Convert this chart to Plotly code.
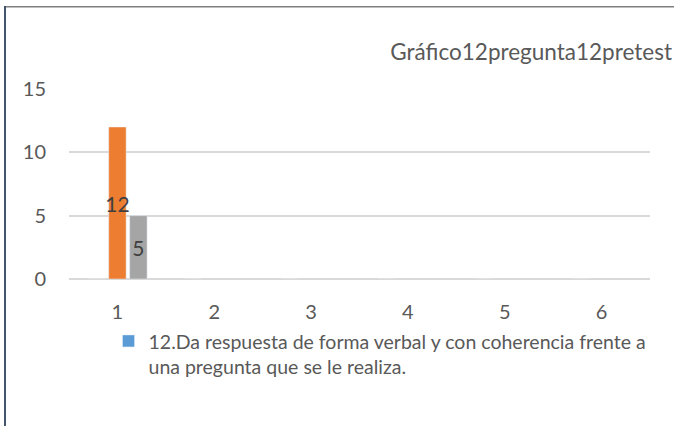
import plotly.graph_objects as go

categories = ["1", "2", "3", "4", "5", "6"]
serie_azul = [0, 0, 0, 0, 0, 0]
serie_naranja = [12, None, None, None, None, None]
serie_gris = [5, None, None, None, None, None]
nombre_serie = "12.Da respuesta de forma verbal y con coherencia frente a<br>una pregunta que se le realiza."
titulo = "Gráfico12pregunta12pretest"
y_ticks = [0, 5, 10, 15]

FONT = "Lato"
TEXT = "#595959"

fig = go.Figure()
fig.add_trace(go.Bar(x=categories, y=serie_azul, name=nombre_serie,
                     marker_color="#5B9BD5"))
fig.add_trace(go.Bar(x=categories, y=serie_naranja, marker_color="#ED7D31",
                     showlegend=False, texttemplate="%{y}", textposition="inside",
                     insidetextanchor="middle", textangle=0, constraintext="none",
                     textfont=dict(family=FONT, size=21, color="#404040")))
fig.add_trace(go.Bar(x=categories, y=serie_gris, marker_color="#A5A5A5",
                     showlegend=False, texttemplate="%{y}", textposition="inside",
                     insidetextanchor="middle", textangle=0, constraintext="none",
                     textfont=dict(family=FONT, size=21, color="#404040")))

fig.update_layout(
    width=674, height=426,
    margin=dict(l=69, r=24, t=89, b=147),
    paper_bgcolor="white", plot_bgcolor="white",
    font=dict(family=FONT, color=TEXT),
    barmode="group", bargap=0.35, bargroupgap=0.17,
    title=dict(text=titulo, xref="container", x=0.997, xanchor="right",
               yref="container", y=1 - 52 / 426, yanchor="middle",
               font=dict(family=FONT, size=22.5, color=TEXT)),
    xaxis=dict(type="category", showgrid=False, showline=False, ticks="",
               tickfont=dict(size=20, color=TEXT), ticklabelstandoff=19),
    yaxis=dict(range=[0, 15], tickvals=y_ticks, showgrid=True,
               gridcolor="#D9D9D9", gridwidth=1.5, zeroline=True,
               zerolinecolor="#D9D9D9", zerolinewidth=1.5, showline=False,
               ticks="", tickfont=dict(size=20, color=TEXT),
               ticklabelstandoff=22),
    legend=dict(orientation="v", x=0.068, xanchor="left", y=-0.225,
                yanchor="top", valign="top", font=dict(size=19.5, color=TEXT),
                bgcolor="rgba(0,0,0,0)"),
    shapes=[
        # marco del gráfico: borde superior gris y borde izquierdo oscuro
        dict(type="rect", xref="paper", yref="paper", x0=-64 / 581, x1=1.2,
             y0=1 + 81.5 / 190, y1=1 + 83 / 190, fillcolor="#808080",
             line=dict(width=0), layer="above"),
        dict(type="line", xref="paper", yref="paper", x0=-64 / 581, x1=-64 / 581,
             y0=1 + 83 / 190, y1=-0.8, line=dict(color="#44546A", width=2)),
    ],
)

fig.write_html("out.html", config={"displayModeBar": False},
               post_script="document.body.style.margin='0';")
